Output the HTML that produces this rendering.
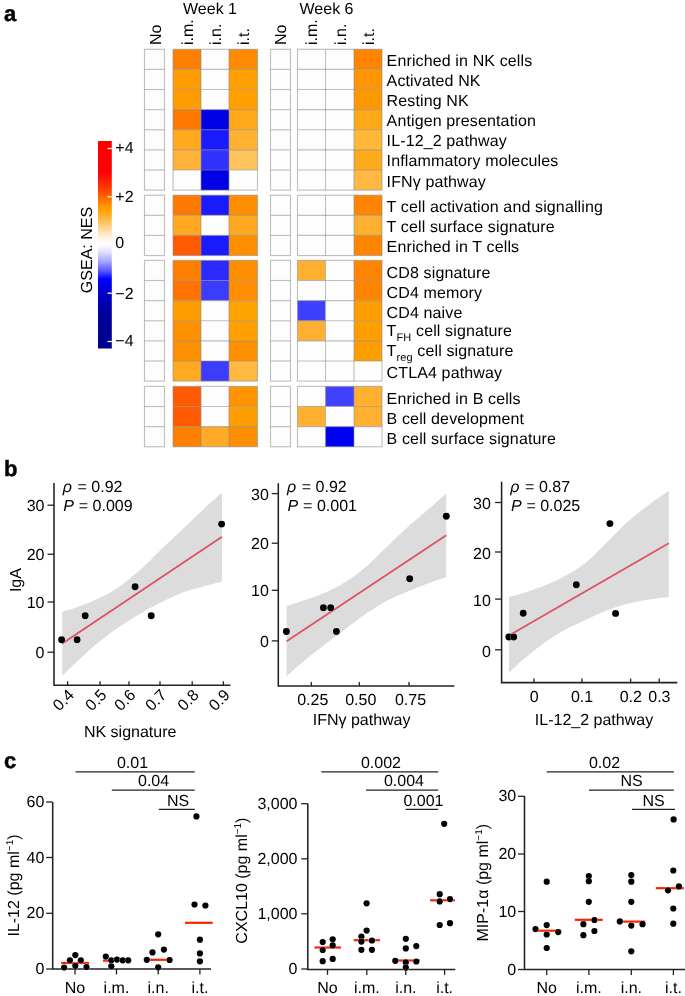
<!DOCTYPE html><html><head><meta charset="utf-8"><style>html,body{margin:0;padding:0;background:#fff;}svg{display:block;will-change:transform;}text{font-family:"Liberation Sans",sans-serif;text-rendering:geometricPrecision;}</style></head><body>
<svg width="685" height="996" viewBox="0 0 685 996">
<text x="4" y="20.5" font-size="22" font-weight="bold" stroke="#000" stroke-width="0.45">a</text>
<text x="4" y="476" font-size="22" font-weight="bold" stroke="#000" stroke-width="0.45">b</text>
<text x="4" y="768" font-size="22" font-weight="bold" stroke="#000" stroke-width="0.45">c</text>
<text x="210" y="13.6" font-size="16" text-anchor="middle">Week 1</text>
<text x="326.5" y="13.6" font-size="16" text-anchor="middle">Week 6</text>
<text transform="translate(161.2,45) rotate(-90)" font-size="16">No</text>
<text transform="translate(192.8,45) rotate(-90)" font-size="16">i.m.</text>
<text transform="translate(220.8,45) rotate(-90)" font-size="16">i.n.</text>
<text transform="translate(249.1,45) rotate(-90)" font-size="16">i.t.</text>
<text transform="translate(286.3,45) rotate(-90)" font-size="16">No</text>
<text transform="translate(317.3,45) rotate(-90)" font-size="16">i.m.</text>
<text transform="translate(345.6,45) rotate(-90)" font-size="16">i.n.</text>
<text transform="translate(373.8,45) rotate(-90)" font-size="16">i.t.</text>
<rect x="144.5" y="49.30" width="20.0" height="20.12" fill="#FDFDFD"/>
<rect x="173" y="49.30" width="28" height="20.12" fill="#FF7F00"/>
<rect x="201" y="49.30" width="28" height="20.12" fill="#FDFDFD"/>
<rect x="229" y="49.30" width="28.5" height="20.12" fill="#FF8A00"/>
<rect x="270.5" y="49.30" width="20.0" height="20.12" fill="#FDFDFD"/>
<rect x="297.5" y="49.30" width="28.0" height="20.12" fill="#FDFDFD"/>
<rect x="325.5" y="49.30" width="28.5" height="20.12" fill="#FDFDFD"/>
<rect x="354" y="49.30" width="28" height="20.12" fill="#FF8400"/>
<rect x="144.5" y="69.42" width="20.0" height="20.12" fill="#FDFDFD"/>
<rect x="173" y="69.42" width="28" height="20.12" fill="#FF9C00"/>
<rect x="201" y="69.42" width="28" height="20.12" fill="#FDFDFD"/>
<rect x="229" y="69.42" width="28.5" height="20.12" fill="#FFA000"/>
<rect x="270.5" y="69.42" width="20.0" height="20.12" fill="#FDFDFD"/>
<rect x="297.5" y="69.42" width="28.0" height="20.12" fill="#FDFDFD"/>
<rect x="325.5" y="69.42" width="28.5" height="20.12" fill="#FDFDFD"/>
<rect x="354" y="69.42" width="28" height="20.12" fill="#FF9500"/>
<rect x="144.5" y="89.54" width="20.0" height="20.12" fill="#FDFDFD"/>
<rect x="173" y="89.54" width="28" height="20.12" fill="#FF9C00"/>
<rect x="201" y="89.54" width="28" height="20.12" fill="#FDFDFD"/>
<rect x="229" y="89.54" width="28.5" height="20.12" fill="#FFA000"/>
<rect x="270.5" y="89.54" width="20.0" height="20.12" fill="#FDFDFD"/>
<rect x="297.5" y="89.54" width="28.0" height="20.12" fill="#FDFDFD"/>
<rect x="325.5" y="89.54" width="28.5" height="20.12" fill="#FDFDFD"/>
<rect x="354" y="89.54" width="28" height="20.12" fill="#FF9800"/>
<rect x="144.5" y="109.66" width="20.0" height="20.12" fill="#FDFDFD"/>
<rect x="173" y="109.66" width="28" height="20.12" fill="#FF7800"/>
<rect x="201" y="109.66" width="28" height="20.12" fill="#0000E6"/>
<rect x="229" y="109.66" width="28.5" height="20.12" fill="#FFA91A"/>
<rect x="270.5" y="109.66" width="20.0" height="20.12" fill="#FDFDFD"/>
<rect x="297.5" y="109.66" width="28.0" height="20.12" fill="#FDFDFD"/>
<rect x="325.5" y="109.66" width="28.5" height="20.12" fill="#FDFDFD"/>
<rect x="354" y="109.66" width="28" height="20.12" fill="#FFA818"/>
<rect x="144.5" y="129.78" width="20.0" height="20.12" fill="#FDFDFD"/>
<rect x="173" y="129.78" width="28" height="20.12" fill="#FFAA1C"/>
<rect x="201" y="129.78" width="28" height="20.12" fill="#1A1AFF"/>
<rect x="229" y="129.78" width="28.5" height="20.12" fill="#FFB232"/>
<rect x="270.5" y="129.78" width="20.0" height="20.12" fill="#FDFDFD"/>
<rect x="297.5" y="129.78" width="28.0" height="20.12" fill="#FDFDFD"/>
<rect x="325.5" y="129.78" width="28.5" height="20.12" fill="#FDFDFD"/>
<rect x="354" y="129.78" width="28" height="20.12" fill="#FFB838"/>
<rect x="144.5" y="149.90" width="20.0" height="20.12" fill="#FDFDFD"/>
<rect x="173" y="149.90" width="28" height="20.12" fill="#FFB23A"/>
<rect x="201" y="149.90" width="28" height="20.12" fill="#3030FF"/>
<rect x="229" y="149.90" width="28.5" height="20.12" fill="#FFC45C"/>
<rect x="270.5" y="149.90" width="20.0" height="20.12" fill="#FDFDFD"/>
<rect x="297.5" y="149.90" width="28.0" height="20.12" fill="#FDFDFD"/>
<rect x="325.5" y="149.90" width="28.5" height="20.12" fill="#FDFDFD"/>
<rect x="354" y="149.90" width="28" height="20.12" fill="#FFAA1C"/>
<rect x="144.5" y="170.02" width="20.0" height="20.12" fill="#FDFDFD"/>
<rect x="173" y="170.02" width="28" height="20.12" fill="#FDFDFD"/>
<rect x="201" y="170.02" width="28" height="20.12" fill="#0000E6"/>
<rect x="229" y="170.02" width="28.5" height="20.12" fill="#FDFDFD"/>
<rect x="270.5" y="170.02" width="20.0" height="20.12" fill="#FDFDFD"/>
<rect x="297.5" y="170.02" width="28.0" height="20.12" fill="#FDFDFD"/>
<rect x="325.5" y="170.02" width="28.5" height="20.12" fill="#FDFDFD"/>
<rect x="354" y="170.02" width="28" height="20.12" fill="#FFB840"/>
<rect x="144.5" y="195.20" width="20.0" height="20.12" fill="#FDFDFD"/>
<rect x="173" y="195.20" width="28" height="20.12" fill="#FF7A00"/>
<rect x="201" y="195.20" width="28" height="20.12" fill="#1A1AFF"/>
<rect x="229" y="195.20" width="28.5" height="20.12" fill="#FF8E00"/>
<rect x="270.5" y="195.20" width="20.0" height="20.12" fill="#FDFDFD"/>
<rect x="297.5" y="195.20" width="28.0" height="20.12" fill="#FDFDFD"/>
<rect x="325.5" y="195.20" width="28.5" height="20.12" fill="#FDFDFD"/>
<rect x="354" y="195.20" width="28" height="20.12" fill="#FF8500"/>
<rect x="144.5" y="215.32" width="20.0" height="20.12" fill="#FDFDFD"/>
<rect x="173" y="215.32" width="28" height="20.12" fill="#FFA820"/>
<rect x="201" y="215.32" width="28" height="20.12" fill="#FDFDFD"/>
<rect x="229" y="215.32" width="28.5" height="20.12" fill="#FFA820"/>
<rect x="270.5" y="215.32" width="20.0" height="20.12" fill="#FDFDFD"/>
<rect x="297.5" y="215.32" width="28.0" height="20.12" fill="#FDFDFD"/>
<rect x="325.5" y="215.32" width="28.5" height="20.12" fill="#FDFDFD"/>
<rect x="354" y="215.32" width="28" height="20.12" fill="#FFB030"/>
<rect x="144.5" y="235.44" width="20.0" height="20.12" fill="#FDFDFD"/>
<rect x="173" y="235.44" width="28" height="20.12" fill="#FF5A00"/>
<rect x="201" y="235.44" width="28" height="20.12" fill="#1A1AFF"/>
<rect x="229" y="235.44" width="28.5" height="20.12" fill="#FF8E00"/>
<rect x="270.5" y="235.44" width="20.0" height="20.12" fill="#FDFDFD"/>
<rect x="297.5" y="235.44" width="28.0" height="20.12" fill="#FDFDFD"/>
<rect x="325.5" y="235.44" width="28.5" height="20.12" fill="#FDFDFD"/>
<rect x="354" y="235.44" width="28" height="20.12" fill="#FF8500"/>
<rect x="144.5" y="260.40" width="20.0" height="20.12" fill="#FDFDFD"/>
<rect x="173" y="260.40" width="28" height="20.12" fill="#FF8000"/>
<rect x="201" y="260.40" width="28" height="20.12" fill="#2A2AFF"/>
<rect x="229" y="260.40" width="28.5" height="20.12" fill="#FF8E00"/>
<rect x="270.5" y="260.40" width="20.0" height="20.12" fill="#FDFDFD"/>
<rect x="297.5" y="260.40" width="28.0" height="20.12" fill="#FFB030"/>
<rect x="325.5" y="260.40" width="28.5" height="20.12" fill="#FDFDFD"/>
<rect x="354" y="260.40" width="28" height="20.12" fill="#FF8500"/>
<rect x="144.5" y="280.52" width="20.0" height="20.12" fill="#FDFDFD"/>
<rect x="173" y="280.52" width="28" height="20.12" fill="#FF7400"/>
<rect x="201" y="280.52" width="28" height="20.12" fill="#3C3CFF"/>
<rect x="229" y="280.52" width="28.5" height="20.12" fill="#FF8E00"/>
<rect x="270.5" y="280.52" width="20.0" height="20.12" fill="#FDFDFD"/>
<rect x="297.5" y="280.52" width="28.0" height="20.12" fill="#FDFDFD"/>
<rect x="325.5" y="280.52" width="28.5" height="20.12" fill="#FDFDFD"/>
<rect x="354" y="280.52" width="28" height="20.12" fill="#FF8500"/>
<rect x="144.5" y="300.64" width="20.0" height="20.12" fill="#FDFDFD"/>
<rect x="173" y="300.64" width="28" height="20.12" fill="#FF9C00"/>
<rect x="201" y="300.64" width="28" height="20.12" fill="#FDFDFD"/>
<rect x="229" y="300.64" width="28.5" height="20.12" fill="#FFA300"/>
<rect x="270.5" y="300.64" width="20.0" height="20.12" fill="#FDFDFD"/>
<rect x="297.5" y="300.64" width="28.0" height="20.12" fill="#3F3FFF"/>
<rect x="325.5" y="300.64" width="28.5" height="20.12" fill="#FDFDFD"/>
<rect x="354" y="300.64" width="28" height="20.12" fill="#FF9E00"/>
<rect x="144.5" y="320.76" width="20.0" height="20.12" fill="#FDFDFD"/>
<rect x="173" y="320.76" width="28" height="20.12" fill="#FF9000"/>
<rect x="201" y="320.76" width="28" height="20.12" fill="#FDFDFD"/>
<rect x="229" y="320.76" width="28.5" height="20.12" fill="#FFA000"/>
<rect x="270.5" y="320.76" width="20.0" height="20.12" fill="#FDFDFD"/>
<rect x="297.5" y="320.76" width="28.0" height="20.12" fill="#FFB030"/>
<rect x="325.5" y="320.76" width="28.5" height="20.12" fill="#FDFDFD"/>
<rect x="354" y="320.76" width="28" height="20.12" fill="#FF9E00"/>
<rect x="144.5" y="340.88" width="20.0" height="20.12" fill="#FDFDFD"/>
<rect x="173" y="340.88" width="28" height="20.12" fill="#FF9000"/>
<rect x="201" y="340.88" width="28" height="20.12" fill="#FDFDFD"/>
<rect x="229" y="340.88" width="28.5" height="20.12" fill="#FF9000"/>
<rect x="270.5" y="340.88" width="20.0" height="20.12" fill="#FDFDFD"/>
<rect x="297.5" y="340.88" width="28.0" height="20.12" fill="#FDFDFD"/>
<rect x="325.5" y="340.88" width="28.5" height="20.12" fill="#FDFDFD"/>
<rect x="354" y="340.88" width="28" height="20.12" fill="#FF9E00"/>
<rect x="144.5" y="361.00" width="20.0" height="20.12" fill="#FDFDFD"/>
<rect x="173" y="361.00" width="28" height="20.12" fill="#FFAA20"/>
<rect x="201" y="361.00" width="28" height="20.12" fill="#3C3CFF"/>
<rect x="229" y="361.00" width="28.5" height="20.12" fill="#FFB840"/>
<rect x="270.5" y="361.00" width="20.0" height="20.12" fill="#FDFDFD"/>
<rect x="297.5" y="361.00" width="28.0" height="20.12" fill="#FDFDFD"/>
<rect x="325.5" y="361.00" width="28.5" height="20.12" fill="#FDFDFD"/>
<rect x="354" y="361.00" width="28" height="20.12" fill="#FDFDFD"/>
<rect x="144.5" y="386.40" width="20.0" height="20.12" fill="#FDFDFD"/>
<rect x="173" y="386.40" width="28" height="20.12" fill="#FF5A00"/>
<rect x="201" y="386.40" width="28" height="20.12" fill="#FDFDFD"/>
<rect x="229" y="386.40" width="28.5" height="20.12" fill="#FF9400"/>
<rect x="270.5" y="386.40" width="20.0" height="20.12" fill="#FDFDFD"/>
<rect x="297.5" y="386.40" width="28.0" height="20.12" fill="#FDFDFD"/>
<rect x="325.5" y="386.40" width="28.5" height="20.12" fill="#4040FF"/>
<rect x="354" y="386.40" width="28" height="20.12" fill="#FFB030"/>
<rect x="144.5" y="406.52" width="20.0" height="20.12" fill="#FDFDFD"/>
<rect x="173" y="406.52" width="28" height="20.12" fill="#FF5A00"/>
<rect x="201" y="406.52" width="28" height="20.12" fill="#FDFDFD"/>
<rect x="229" y="406.52" width="28.5" height="20.12" fill="#FF9E00"/>
<rect x="270.5" y="406.52" width="20.0" height="20.12" fill="#FDFDFD"/>
<rect x="297.5" y="406.52" width="28.0" height="20.12" fill="#FFB030"/>
<rect x="325.5" y="406.52" width="28.5" height="20.12" fill="#FDFDFD"/>
<rect x="354" y="406.52" width="28" height="20.12" fill="#FFB030"/>
<rect x="144.5" y="426.64" width="20.0" height="20.12" fill="#FDFDFD"/>
<rect x="173" y="426.64" width="28" height="20.12" fill="#FF8000"/>
<rect x="201" y="426.64" width="28" height="20.12" fill="#FFAA28"/>
<rect x="229" y="426.64" width="28.5" height="20.12" fill="#FF8E00"/>
<rect x="270.5" y="426.64" width="20.0" height="20.12" fill="#FDFDFD"/>
<rect x="297.5" y="426.64" width="28.0" height="20.12" fill="#FDFDFD"/>
<rect x="325.5" y="426.64" width="28.5" height="20.12" fill="#0000F0"/>
<rect x="354" y="426.64" width="28" height="20.12" fill="#FDFDFD"/>
<rect x="144.5" y="49.30" width="20.0" height="140.84" fill="none" stroke="#8C8C8C" stroke-opacity="0.55" stroke-width="1.15"/>
<line x1="144.5" y1="69.42" x2="164.5" y2="69.42" stroke="#8C8C8C" stroke-opacity="0.55" stroke-width="1.15"/>
<line x1="144.5" y1="89.54" x2="164.5" y2="89.54" stroke="#8C8C8C" stroke-opacity="0.55" stroke-width="1.15"/>
<line x1="144.5" y1="109.66" x2="164.5" y2="109.66" stroke="#8C8C8C" stroke-opacity="0.55" stroke-width="1.15"/>
<line x1="144.5" y1="129.78" x2="164.5" y2="129.78" stroke="#8C8C8C" stroke-opacity="0.55" stroke-width="1.15"/>
<line x1="144.5" y1="149.90" x2="164.5" y2="149.90" stroke="#8C8C8C" stroke-opacity="0.55" stroke-width="1.15"/>
<line x1="144.5" y1="170.02" x2="164.5" y2="170.02" stroke="#8C8C8C" stroke-opacity="0.55" stroke-width="1.15"/>
<rect x="173" y="49.30" width="84.5" height="140.84" fill="none" stroke="#8C8C8C" stroke-opacity="0.55" stroke-width="1.15"/>
<line x1="201" y1="49.30" x2="201" y2="190.14" stroke="#8C8C8C" stroke-opacity="0.55" stroke-width="1.15"/>
<line x1="229" y1="49.30" x2="229" y2="190.14" stroke="#8C8C8C" stroke-opacity="0.55" stroke-width="1.15"/>
<line x1="173" y1="69.42" x2="257.5" y2="69.42" stroke="#8C8C8C" stroke-opacity="0.55" stroke-width="1.15"/>
<line x1="173" y1="89.54" x2="257.5" y2="89.54" stroke="#8C8C8C" stroke-opacity="0.55" stroke-width="1.15"/>
<line x1="173" y1="109.66" x2="257.5" y2="109.66" stroke="#8C8C8C" stroke-opacity="0.55" stroke-width="1.15"/>
<line x1="173" y1="129.78" x2="257.5" y2="129.78" stroke="#8C8C8C" stroke-opacity="0.55" stroke-width="1.15"/>
<line x1="173" y1="149.90" x2="257.5" y2="149.90" stroke="#8C8C8C" stroke-opacity="0.55" stroke-width="1.15"/>
<line x1="173" y1="170.02" x2="257.5" y2="170.02" stroke="#8C8C8C" stroke-opacity="0.55" stroke-width="1.15"/>
<rect x="270.5" y="49.30" width="20.0" height="140.84" fill="none" stroke="#8C8C8C" stroke-opacity="0.55" stroke-width="1.15"/>
<line x1="270.5" y1="69.42" x2="290.5" y2="69.42" stroke="#8C8C8C" stroke-opacity="0.55" stroke-width="1.15"/>
<line x1="270.5" y1="89.54" x2="290.5" y2="89.54" stroke="#8C8C8C" stroke-opacity="0.55" stroke-width="1.15"/>
<line x1="270.5" y1="109.66" x2="290.5" y2="109.66" stroke="#8C8C8C" stroke-opacity="0.55" stroke-width="1.15"/>
<line x1="270.5" y1="129.78" x2="290.5" y2="129.78" stroke="#8C8C8C" stroke-opacity="0.55" stroke-width="1.15"/>
<line x1="270.5" y1="149.90" x2="290.5" y2="149.90" stroke="#8C8C8C" stroke-opacity="0.55" stroke-width="1.15"/>
<line x1="270.5" y1="170.02" x2="290.5" y2="170.02" stroke="#8C8C8C" stroke-opacity="0.55" stroke-width="1.15"/>
<rect x="297.5" y="49.30" width="84.5" height="140.84" fill="none" stroke="#8C8C8C" stroke-opacity="0.55" stroke-width="1.15"/>
<line x1="325.5" y1="49.30" x2="325.5" y2="190.14" stroke="#8C8C8C" stroke-opacity="0.55" stroke-width="1.15"/>
<line x1="354" y1="49.30" x2="354" y2="190.14" stroke="#8C8C8C" stroke-opacity="0.55" stroke-width="1.15"/>
<line x1="297.5" y1="69.42" x2="382" y2="69.42" stroke="#8C8C8C" stroke-opacity="0.55" stroke-width="1.15"/>
<line x1="297.5" y1="89.54" x2="382" y2="89.54" stroke="#8C8C8C" stroke-opacity="0.55" stroke-width="1.15"/>
<line x1="297.5" y1="109.66" x2="382" y2="109.66" stroke="#8C8C8C" stroke-opacity="0.55" stroke-width="1.15"/>
<line x1="297.5" y1="129.78" x2="382" y2="129.78" stroke="#8C8C8C" stroke-opacity="0.55" stroke-width="1.15"/>
<line x1="297.5" y1="149.90" x2="382" y2="149.90" stroke="#8C8C8C" stroke-opacity="0.55" stroke-width="1.15"/>
<line x1="297.5" y1="170.02" x2="382" y2="170.02" stroke="#8C8C8C" stroke-opacity="0.55" stroke-width="1.15"/>
<rect x="144.5" y="195.20" width="20.0" height="60.36" fill="none" stroke="#8C8C8C" stroke-opacity="0.55" stroke-width="1.15"/>
<line x1="144.5" y1="215.32" x2="164.5" y2="215.32" stroke="#8C8C8C" stroke-opacity="0.55" stroke-width="1.15"/>
<line x1="144.5" y1="235.44" x2="164.5" y2="235.44" stroke="#8C8C8C" stroke-opacity="0.55" stroke-width="1.15"/>
<rect x="173" y="195.20" width="84.5" height="60.36" fill="none" stroke="#8C8C8C" stroke-opacity="0.55" stroke-width="1.15"/>
<line x1="201" y1="195.20" x2="201" y2="255.56" stroke="#8C8C8C" stroke-opacity="0.55" stroke-width="1.15"/>
<line x1="229" y1="195.20" x2="229" y2="255.56" stroke="#8C8C8C" stroke-opacity="0.55" stroke-width="1.15"/>
<line x1="173" y1="215.32" x2="257.5" y2="215.32" stroke="#8C8C8C" stroke-opacity="0.55" stroke-width="1.15"/>
<line x1="173" y1="235.44" x2="257.5" y2="235.44" stroke="#8C8C8C" stroke-opacity="0.55" stroke-width="1.15"/>
<rect x="270.5" y="195.20" width="20.0" height="60.36" fill="none" stroke="#8C8C8C" stroke-opacity="0.55" stroke-width="1.15"/>
<line x1="270.5" y1="215.32" x2="290.5" y2="215.32" stroke="#8C8C8C" stroke-opacity="0.55" stroke-width="1.15"/>
<line x1="270.5" y1="235.44" x2="290.5" y2="235.44" stroke="#8C8C8C" stroke-opacity="0.55" stroke-width="1.15"/>
<rect x="297.5" y="195.20" width="84.5" height="60.36" fill="none" stroke="#8C8C8C" stroke-opacity="0.55" stroke-width="1.15"/>
<line x1="325.5" y1="195.20" x2="325.5" y2="255.56" stroke="#8C8C8C" stroke-opacity="0.55" stroke-width="1.15"/>
<line x1="354" y1="195.20" x2="354" y2="255.56" stroke="#8C8C8C" stroke-opacity="0.55" stroke-width="1.15"/>
<line x1="297.5" y1="215.32" x2="382" y2="215.32" stroke="#8C8C8C" stroke-opacity="0.55" stroke-width="1.15"/>
<line x1="297.5" y1="235.44" x2="382" y2="235.44" stroke="#8C8C8C" stroke-opacity="0.55" stroke-width="1.15"/>
<rect x="144.5" y="260.40" width="20.0" height="120.72" fill="none" stroke="#8C8C8C" stroke-opacity="0.55" stroke-width="1.15"/>
<line x1="144.5" y1="280.52" x2="164.5" y2="280.52" stroke="#8C8C8C" stroke-opacity="0.55" stroke-width="1.15"/>
<line x1="144.5" y1="300.64" x2="164.5" y2="300.64" stroke="#8C8C8C" stroke-opacity="0.55" stroke-width="1.15"/>
<line x1="144.5" y1="320.76" x2="164.5" y2="320.76" stroke="#8C8C8C" stroke-opacity="0.55" stroke-width="1.15"/>
<line x1="144.5" y1="340.88" x2="164.5" y2="340.88" stroke="#8C8C8C" stroke-opacity="0.55" stroke-width="1.15"/>
<line x1="144.5" y1="361.00" x2="164.5" y2="361.00" stroke="#8C8C8C" stroke-opacity="0.55" stroke-width="1.15"/>
<rect x="173" y="260.40" width="84.5" height="120.72" fill="none" stroke="#8C8C8C" stroke-opacity="0.55" stroke-width="1.15"/>
<line x1="201" y1="260.40" x2="201" y2="381.12" stroke="#8C8C8C" stroke-opacity="0.55" stroke-width="1.15"/>
<line x1="229" y1="260.40" x2="229" y2="381.12" stroke="#8C8C8C" stroke-opacity="0.55" stroke-width="1.15"/>
<line x1="173" y1="280.52" x2="257.5" y2="280.52" stroke="#8C8C8C" stroke-opacity="0.55" stroke-width="1.15"/>
<line x1="173" y1="300.64" x2="257.5" y2="300.64" stroke="#8C8C8C" stroke-opacity="0.55" stroke-width="1.15"/>
<line x1="173" y1="320.76" x2="257.5" y2="320.76" stroke="#8C8C8C" stroke-opacity="0.55" stroke-width="1.15"/>
<line x1="173" y1="340.88" x2="257.5" y2="340.88" stroke="#8C8C8C" stroke-opacity="0.55" stroke-width="1.15"/>
<line x1="173" y1="361.00" x2="257.5" y2="361.00" stroke="#8C8C8C" stroke-opacity="0.55" stroke-width="1.15"/>
<rect x="270.5" y="260.40" width="20.0" height="120.72" fill="none" stroke="#8C8C8C" stroke-opacity="0.55" stroke-width="1.15"/>
<line x1="270.5" y1="280.52" x2="290.5" y2="280.52" stroke="#8C8C8C" stroke-opacity="0.55" stroke-width="1.15"/>
<line x1="270.5" y1="300.64" x2="290.5" y2="300.64" stroke="#8C8C8C" stroke-opacity="0.55" stroke-width="1.15"/>
<line x1="270.5" y1="320.76" x2="290.5" y2="320.76" stroke="#8C8C8C" stroke-opacity="0.55" stroke-width="1.15"/>
<line x1="270.5" y1="340.88" x2="290.5" y2="340.88" stroke="#8C8C8C" stroke-opacity="0.55" stroke-width="1.15"/>
<line x1="270.5" y1="361.00" x2="290.5" y2="361.00" stroke="#8C8C8C" stroke-opacity="0.55" stroke-width="1.15"/>
<rect x="297.5" y="260.40" width="84.5" height="120.72" fill="none" stroke="#8C8C8C" stroke-opacity="0.55" stroke-width="1.15"/>
<line x1="325.5" y1="260.40" x2="325.5" y2="381.12" stroke="#8C8C8C" stroke-opacity="0.55" stroke-width="1.15"/>
<line x1="354" y1="260.40" x2="354" y2="381.12" stroke="#8C8C8C" stroke-opacity="0.55" stroke-width="1.15"/>
<line x1="297.5" y1="280.52" x2="382" y2="280.52" stroke="#8C8C8C" stroke-opacity="0.55" stroke-width="1.15"/>
<line x1="297.5" y1="300.64" x2="382" y2="300.64" stroke="#8C8C8C" stroke-opacity="0.55" stroke-width="1.15"/>
<line x1="297.5" y1="320.76" x2="382" y2="320.76" stroke="#8C8C8C" stroke-opacity="0.55" stroke-width="1.15"/>
<line x1="297.5" y1="340.88" x2="382" y2="340.88" stroke="#8C8C8C" stroke-opacity="0.55" stroke-width="1.15"/>
<line x1="297.5" y1="361.00" x2="382" y2="361.00" stroke="#8C8C8C" stroke-opacity="0.55" stroke-width="1.15"/>
<rect x="144.5" y="386.40" width="20.0" height="60.36" fill="none" stroke="#8C8C8C" stroke-opacity="0.55" stroke-width="1.15"/>
<line x1="144.5" y1="406.52" x2="164.5" y2="406.52" stroke="#8C8C8C" stroke-opacity="0.55" stroke-width="1.15"/>
<line x1="144.5" y1="426.64" x2="164.5" y2="426.64" stroke="#8C8C8C" stroke-opacity="0.55" stroke-width="1.15"/>
<rect x="173" y="386.40" width="84.5" height="60.36" fill="none" stroke="#8C8C8C" stroke-opacity="0.55" stroke-width="1.15"/>
<line x1="201" y1="386.40" x2="201" y2="446.76" stroke="#8C8C8C" stroke-opacity="0.55" stroke-width="1.15"/>
<line x1="229" y1="386.40" x2="229" y2="446.76" stroke="#8C8C8C" stroke-opacity="0.55" stroke-width="1.15"/>
<line x1="173" y1="406.52" x2="257.5" y2="406.52" stroke="#8C8C8C" stroke-opacity="0.55" stroke-width="1.15"/>
<line x1="173" y1="426.64" x2="257.5" y2="426.64" stroke="#8C8C8C" stroke-opacity="0.55" stroke-width="1.15"/>
<rect x="270.5" y="386.40" width="20.0" height="60.36" fill="none" stroke="#8C8C8C" stroke-opacity="0.55" stroke-width="1.15"/>
<line x1="270.5" y1="406.52" x2="290.5" y2="406.52" stroke="#8C8C8C" stroke-opacity="0.55" stroke-width="1.15"/>
<line x1="270.5" y1="426.64" x2="290.5" y2="426.64" stroke="#8C8C8C" stroke-opacity="0.55" stroke-width="1.15"/>
<rect x="297.5" y="386.40" width="84.5" height="60.36" fill="none" stroke="#8C8C8C" stroke-opacity="0.55" stroke-width="1.15"/>
<line x1="325.5" y1="386.40" x2="325.5" y2="446.76" stroke="#8C8C8C" stroke-opacity="0.55" stroke-width="1.15"/>
<line x1="354" y1="386.40" x2="354" y2="446.76" stroke="#8C8C8C" stroke-opacity="0.55" stroke-width="1.15"/>
<line x1="297.5" y1="406.52" x2="382" y2="406.52" stroke="#8C8C8C" stroke-opacity="0.55" stroke-width="1.15"/>
<line x1="297.5" y1="426.64" x2="382" y2="426.64" stroke="#8C8C8C" stroke-opacity="0.55" stroke-width="1.15"/>
<g font-size="16" letter-spacing="0.13"><text x="386.6" y="65.8">Enriched in NK cells</text>
<text x="386.6" y="85.9">Activated NK</text>
<text x="386.6" y="106.0">Resting NK</text>
<text x="386.6" y="126.2">Antigen presentation</text>
<text x="386.6" y="146.3">IL-12_2 pathway</text>
<text x="386.6" y="166.4">Inflammatory molecules</text>
<text x="386.6" y="186.5">IFN&#947; pathway</text>
<text x="386.6" y="212.1">T cell activation and signalling</text>
<text x="386.6" y="232.2">T cell surface signature</text>
<text x="386.6" y="252.3">Enriched in T cells</text>
<text x="386.6" y="277.6">CD8 signature</text>
<text x="386.6" y="297.7">CD4 memory</text>
<text x="386.6" y="317.8">CD4 naive</text>
<text x="386.6" y="335.9">T<tspan font-size="11" dy="5.3">FH</tspan><tspan dy="-5.3"> cell signature</tspan></text>
<text x="386.6" y="356.0">T<tspan font-size="11" dy="5.3">reg</tspan><tspan dy="-5.3"> cell signature</tspan></text>
<text x="386.6" y="378.2">CTLA4 pathway</text>
<text x="386.6" y="403.7">Enriched in B cells</text>
<text x="386.6" y="423.8">B cell development</text>
<text x="386.6" y="443.9">B cell surface signature</text></g>
<defs><linearGradient id="cb" x1="0" y1="0" x2="0" y2="1">
<stop offset="0" stop-color="#FF0000"/>
<stop offset="0.15" stop-color="#FF0000"/>
<stop offset="0.22" stop-color="#FF3400"/>
<stop offset="0.27" stop-color="#FF6400"/>
<stop offset="0.31" stop-color="#FF9200"/>
<stop offset="0.335" stop-color="#FFA400"/>
<stop offset="0.40" stop-color="#FFC870"/>
<stop offset="0.46" stop-color="#FFF0DC"/>
<stop offset="0.497" stop-color="#FFFFFF"/>
<stop offset="0.53" stop-color="#E6E6FF"/>
<stop offset="0.58" stop-color="#A8A8FF"/>
<stop offset="0.63" stop-color="#5050FF"/>
<stop offset="0.665" stop-color="#0000FF"/>
<stop offset="0.74" stop-color="#0000C8"/>
<stop offset="0.83" stop-color="#00009C"/>
<stop offset="1" stop-color="#00008A"/>
</linearGradient></defs>
<rect x="98" y="141" width="13.8" height="207.5" fill="url(#cb)"/>
<line x1="107.5" y1="148.5" x2="111.8" y2="148.5" stroke="#fff" stroke-width="1.3"/>
<text x="115.3" y="152.7" font-size="16">+4</text>
<line x1="107.5" y1="196.8" x2="111.8" y2="196.8" stroke="#fff" stroke-width="1.3"/>
<text x="115.3" y="202.0" font-size="16">+2</text>
<text x="115.3" y="248.1" font-size="16">0</text>
<line x1="107.5" y1="293.2" x2="111.8" y2="293.2" stroke="#fff" stroke-width="1.3"/>
<text x="115.3" y="299" font-size="16">&#8722;2</text>
<line x1="107.5" y1="341.5" x2="111.8" y2="341.5" stroke="#fff" stroke-width="1.3"/>
<text x="115.3" y="345.8" font-size="16">&#8722;4</text>
<text transform="translate(92,250) rotate(-90)" font-size="16" text-anchor="middle">GSEA: NES</text>
<polygon points="62.2,611.7 63.2,611.4 64.5,611.0 66.1,610.6 67.8,610.1 69.7,609.6 71.8,608.9 73.9,608.3 76.1,607.5 78.4,606.7 80.9,605.8 83.5,604.8 86.2,603.8 89.0,602.7 91.8,601.5 94.5,600.3 97.2,599.1 99.8,597.8 102.4,596.6 105.0,595.2 107.7,593.9 110.3,592.4 112.9,590.9 115.5,589.3 118.2,587.5 120.9,585.6 123.6,583.6 126.3,581.5 129.1,579.2 131.8,577.0 134.6,574.6 137.3,572.3 140.0,569.9 142.7,567.5 145.3,565.0 148.0,562.5 150.6,559.9 153.2,557.3 155.8,554.7 158.5,552.1 161.1,549.6 163.7,547.1 166.4,544.6 169.0,542.0 171.7,539.5 174.3,537.0 176.9,534.5 179.6,532.0 182.2,529.5 184.8,527.0 187.5,524.4 190.2,521.9 192.8,519.3 195.5,516.8 198.1,514.3 200.7,511.9 203.2,509.5 205.8,507.1 208.5,504.6 211.2,502.1 213.9,499.7 216.4,497.4 218.6,495.4 220.5,493.7 221.9,492.4 221.9,581.8 220.5,582.2 218.6,582.6 216.4,583.1 213.9,583.8 211.2,584.4 208.5,585.1 205.8,585.8 203.2,586.5 200.7,587.2 198.1,587.9 195.5,588.6 192.8,589.3 190.2,590.1 187.5,591.0 184.8,591.8 182.2,592.8 179.6,593.8 176.9,594.9 174.3,596.0 171.7,597.2 169.0,598.4 166.4,599.7 163.7,601.0 161.1,602.3 158.5,603.6 155.8,605.0 153.2,606.4 150.6,607.8 148.0,609.3 145.3,610.8 142.7,612.3 140.0,613.9 137.3,615.5 134.6,617.1 131.8,618.8 129.1,620.5 126.3,622.2 123.6,624.0 120.9,625.8 118.2,627.6 115.5,629.5 112.9,631.3 110.3,633.2 107.7,635.2 105.0,637.2 102.4,639.2 99.8,641.3 97.2,643.4 94.5,645.6 91.8,648.0 89.0,650.5 86.2,653.0 83.5,655.5 80.9,657.9 78.4,660.2 76.1,662.3 73.9,664.4 71.8,666.4 69.7,668.4 67.8,670.3 66.1,672.1 64.5,673.7 63.2,675.0 62.2,676.0" fill="#DCDCDC"/>
<line x1="62" y1="643.7" x2="222" y2="536.7" stroke="#DE5065" stroke-width="1.75"/>
<circle cx="61.6" cy="639.7" r="3.45" fill="#000" stroke="#fff" stroke-width="0.8" paint-order="stroke"/>
<circle cx="77.1" cy="639.7" r="3.45" fill="#000" stroke="#fff" stroke-width="0.8" paint-order="stroke"/>
<circle cx="85.2" cy="615.8" r="3.45" fill="#000" stroke="#fff" stroke-width="0.8" paint-order="stroke"/>
<circle cx="135.1" cy="586.7" r="3.45" fill="#000" stroke="#fff" stroke-width="0.8" paint-order="stroke"/>
<circle cx="151.2" cy="615.8" r="3.45" fill="#000" stroke="#fff" stroke-width="0.8" paint-order="stroke"/>
<circle cx="221.6" cy="524.1" r="3.45" fill="#000" stroke="#fff" stroke-width="0.8" paint-order="stroke"/>
<path d="M54,483 V685.2 H230.5" fill="none" stroke="#222" stroke-width="1.55"/>
<line x1="47.5" y1="505.2" x2="54" y2="505.2" stroke="#222" stroke-width="1.3"/>
<text x="44.5" y="511.2" font-size="16" text-anchor="end">30</text>
<line x1="47.5" y1="554.2" x2="54" y2="554.2" stroke="#222" stroke-width="1.3"/>
<text x="44.5" y="560.2" font-size="16" text-anchor="end">20</text>
<line x1="47.5" y1="602" x2="54" y2="602" stroke="#222" stroke-width="1.3"/>
<text x="44.5" y="608.0" font-size="16" text-anchor="end">10</text>
<line x1="47.5" y1="652.2" x2="54" y2="652.2" stroke="#222" stroke-width="1.3"/>
<text x="44.5" y="658.2" font-size="16" text-anchor="end">0</text>
<line x1="67.6" y1="681.2" x2="67.6" y2="685.2" stroke="#222" stroke-width="1.3"/>
<text transform="translate(75.1,696.0) rotate(-45)" font-size="16" text-anchor="end">0.4</text>
<line x1="100.1" y1="681.2" x2="100.1" y2="685.2" stroke="#222" stroke-width="1.3"/>
<text transform="translate(107.6,696.0) rotate(-45)" font-size="16" text-anchor="end">0.5</text>
<line x1="129" y1="681.2" x2="129" y2="685.2" stroke="#222" stroke-width="1.3"/>
<text transform="translate(136.5,696.0) rotate(-45)" font-size="16" text-anchor="end">0.6</text>
<line x1="160" y1="681.2" x2="160" y2="685.2" stroke="#222" stroke-width="1.3"/>
<text transform="translate(167.5,696.0) rotate(-45)" font-size="16" text-anchor="end">0.7</text>
<line x1="192.2" y1="681.2" x2="192.2" y2="685.2" stroke="#222" stroke-width="1.3"/>
<text transform="translate(199.7,696.0) rotate(-45)" font-size="16" text-anchor="end">0.8</text>
<line x1="223.4" y1="681.2" x2="223.4" y2="685.2" stroke="#222" stroke-width="1.3"/>
<text transform="translate(230.9,696.0) rotate(-45)" font-size="16" text-anchor="end">0.9</text>
<text x="62.7" y="491.5" font-size="16"><tspan font-style="italic">&#961;</tspan><tspan dx="1.2"> = 0.92</tspan></text>
<text x="63.300000000000004" y="510.5" font-size="16"><tspan font-style="italic">P</tspan><tspan dx="0.4"> = 0.009</tspan></text>
<text x="130.2" y="737.4" font-size="16" text-anchor="middle">NK signature</text>
<text transform="translate(21,580.1) rotate(-90)" font-size="16" text-anchor="middle">IgA</text>
<polygon points="286.6,606.0 287.7,605.6 289.1,605.2 290.7,604.7 292.5,604.1 294.5,603.4 296.7,602.7 298.9,602.0 301.1,601.2 303.4,600.4 305.9,599.6 308.5,598.8 311.2,597.9 314.0,596.9 316.8,595.9 319.5,594.9 322.2,593.8 324.8,592.7 327.5,591.5 330.1,590.3 332.7,589.0 335.3,587.7 337.9,586.3 340.6,584.9 343.2,583.3 345.8,581.7 348.5,580.0 351.1,578.2 353.7,576.4 356.3,574.5 359.0,572.5 361.6,570.4 364.3,568.2 367.0,565.9 369.7,563.4 372.5,560.8 375.2,558.2 377.9,555.5 380.7,552.8 383.4,550.1 386.1,547.5 388.8,544.9 391.4,542.4 394.1,539.8 396.7,537.3 399.3,534.8 401.9,532.3 404.6,529.8 407.2,527.4 409.8,525.0 412.5,522.7 415.2,520.4 417.9,518.2 420.5,516.0 423.2,513.8 425.7,511.6 428.2,509.5 430.7,507.3 433.4,505.0 436.0,502.6 438.6,500.3 441.0,498.2 443.1,496.3 444.9,494.6 446.3,493.4 446.3,577.3 444.9,577.7 443.1,578.3 441.0,579.0 438.6,579.8 436.0,580.6 433.4,581.5 430.7,582.4 428.2,583.3 425.7,584.2 423.2,585.2 420.5,586.2 417.9,587.3 415.2,588.4 412.5,589.5 409.8,590.6 407.2,591.7 404.6,592.8 401.9,593.9 399.3,595.0 396.7,596.1 394.1,597.3 391.4,598.5 388.8,599.8 386.1,601.2 383.4,602.7 380.7,604.3 377.9,605.9 375.2,607.7 372.5,609.4 369.7,611.2 367.0,613.1 364.3,614.9 361.6,616.8 359.0,618.7 356.3,620.7 353.7,622.7 351.1,624.7 348.5,626.7 345.8,628.7 343.2,630.7 340.6,632.7 337.9,634.6 335.3,636.6 332.7,638.5 330.1,640.5 327.5,642.5 324.8,644.5 322.2,646.5 319.5,648.6 316.8,650.7 314.0,652.9 311.2,655.1 308.5,657.3 305.9,659.4 303.4,661.5 301.1,663.4 298.9,665.3 296.7,667.2 294.5,669.1 292.5,670.9 290.7,672.5 289.1,674.0 287.7,675.2 286.6,676.2" fill="#DCDCDC"/>
<line x1="286.6" y1="641.3" x2="446.3" y2="535.2" stroke="#DE5065" stroke-width="1.75"/>
<circle cx="286.4" cy="631.5" r="3.45" fill="#000" stroke="#fff" stroke-width="0.8" paint-order="stroke"/>
<circle cx="323.4" cy="607.7" r="3.45" fill="#000" stroke="#fff" stroke-width="0.8" paint-order="stroke"/>
<circle cx="330.7" cy="607.7" r="3.45" fill="#000" stroke="#fff" stroke-width="0.8" paint-order="stroke"/>
<circle cx="336.4" cy="631.5" r="3.45" fill="#000" stroke="#fff" stroke-width="0.8" paint-order="stroke"/>
<circle cx="409.7" cy="578.8" r="3.45" fill="#000" stroke="#fff" stroke-width="0.8" paint-order="stroke"/>
<circle cx="446.3" cy="516.3" r="3.45" fill="#000" stroke="#fff" stroke-width="0.8" paint-order="stroke"/>
<path d="M278.3,483.3 V685.9 H454.3" fill="none" stroke="#222" stroke-width="1.55"/>
<line x1="271.8" y1="493.6" x2="278.3" y2="493.6" stroke="#222" stroke-width="1.3"/>
<text x="268.8" y="499.70000000000005" font-size="16" text-anchor="end">30</text>
<line x1="271.8" y1="543.2" x2="278.3" y2="543.2" stroke="#222" stroke-width="1.3"/>
<text x="268.8" y="549.3000000000001" font-size="16" text-anchor="end">20</text>
<line x1="271.8" y1="590.3" x2="278.3" y2="590.3" stroke="#222" stroke-width="1.3"/>
<text x="268.8" y="596.4" font-size="16" text-anchor="end">10</text>
<line x1="271.8" y1="640.9" x2="278.3" y2="640.9" stroke="#222" stroke-width="1.3"/>
<text x="268.8" y="647.0" font-size="16" text-anchor="end">0</text>
<line x1="311.3" y1="681.9" x2="311.3" y2="685.9" stroke="#222" stroke-width="1.3"/>
<text x="312.8" y="705.3" font-size="16" text-anchor="middle">0.25</text>
<line x1="359.3" y1="681.9" x2="359.3" y2="685.9" stroke="#222" stroke-width="1.3"/>
<text x="360.8" y="705.3" font-size="16" text-anchor="middle">0.50</text>
<line x1="409" y1="681.9" x2="409" y2="685.9" stroke="#222" stroke-width="1.3"/>
<text x="410.5" y="705.3" font-size="16" text-anchor="middle">0.75</text>
<text x="287" y="491.5" font-size="16"><tspan font-style="italic">&#961;</tspan><tspan dx="1.2"> = 0.92</tspan></text>
<text x="287.6" y="510.5" font-size="16"><tspan font-style="italic">P</tspan><tspan dx="0.4"> = 0.001</tspan></text>
<text x="361.6" y="725.2" font-size="16" text-anchor="middle">IFN&#947; pathway</text>
<polygon points="509.0,596.8 509.9,596.6 511.0,596.4 512.3,596.1 513.7,595.8 515.4,595.4 517.2,594.9 519.1,594.4 521.1,593.8 523.3,593.1 525.7,592.3 528.4,591.5 531.1,590.6 533.9,589.6 536.7,588.6 539.5,587.5 542.2,586.5 544.8,585.4 547.4,584.4 550.0,583.3 552.7,582.1 555.3,581.0 557.9,579.7 560.5,578.4 563.2,577.0 565.9,575.5 568.6,574.0 571.3,572.5 574.1,570.8 576.8,569.1 579.6,567.3 582.3,565.3 585.0,563.3 587.7,561.1 590.3,558.7 593.0,556.3 595.6,553.7 598.2,551.1 600.8,548.4 603.5,545.8 606.1,543.2 608.7,540.6 611.4,537.9 614.0,535.2 616.7,532.5 619.3,529.8 621.9,527.2 624.6,524.6 627.2,522.2 629.8,519.9 632.5,517.6 635.1,515.5 637.7,513.4 640.4,511.3 643.0,509.3 645.6,507.3 648.2,505.3 650.9,503.3 653.9,501.1 656.9,499.0 659.8,496.9 662.6,494.9 665.1,493.2 667.2,491.7 668.8,490.6 668.8,597.0 667.2,597.2 665.1,597.5 662.6,597.7 659.8,598.1 656.9,598.5 653.9,598.9 650.9,599.3 648.2,599.7 645.6,600.1 643.0,600.6 640.4,601.1 637.7,601.5 635.1,602.1 632.5,602.6 629.8,603.2 627.2,603.9 624.6,604.6 621.9,605.4 619.3,606.1 616.7,607.0 614.0,607.8 611.4,608.7 608.7,609.7 606.1,610.7 603.5,611.8 600.8,612.9 598.2,614.0 595.6,615.2 593.0,616.4 590.3,617.7 587.7,618.9 585.0,620.2 582.3,621.4 579.6,622.7 576.8,623.9 574.1,625.2 571.3,626.5 568.6,627.8 565.9,629.2 563.2,630.7 560.5,632.2 557.9,633.8 555.3,635.5 552.7,637.1 550.0,638.9 547.4,640.7 544.8,642.5 542.2,644.4 539.5,646.4 536.7,648.5 533.9,650.7 531.1,653.0 528.4,655.2 525.7,657.4 523.3,659.4 521.1,661.3 519.1,663.1 517.2,664.9 515.4,666.6 513.7,668.2 512.3,669.7 511.0,671.0 509.9,672.1 509.0,673.0" fill="#DCDCDC"/>
<line x1="509" y1="635.6" x2="668.8" y2="543.2" stroke="#DE5065" stroke-width="1.75"/>
<circle cx="508.9" cy="637" r="3.45" fill="#000" stroke="#fff" stroke-width="0.8" paint-order="stroke"/>
<circle cx="513.7" cy="637" r="3.45" fill="#000" stroke="#fff" stroke-width="0.8" paint-order="stroke"/>
<circle cx="523.2" cy="613.2" r="3.45" fill="#000" stroke="#fff" stroke-width="0.8" paint-order="stroke"/>
<circle cx="576.3" cy="584.8" r="3.45" fill="#000" stroke="#fff" stroke-width="0.8" paint-order="stroke"/>
<circle cx="609.9" cy="523.6" r="3.45" fill="#000" stroke="#fff" stroke-width="0.8" paint-order="stroke"/>
<circle cx="615.6" cy="613.4" r="3.45" fill="#000" stroke="#fff" stroke-width="0.8" paint-order="stroke"/>
<path d="M501.6,481.8 V682.6 H677.3" fill="none" stroke="#222" stroke-width="1.55"/>
<line x1="495.1" y1="502.5" x2="501.6" y2="502.5" stroke="#222" stroke-width="1.3"/>
<text x="490.8" y="509.2" font-size="16" text-anchor="end">30</text>
<line x1="495.1" y1="552" x2="501.6" y2="552" stroke="#222" stroke-width="1.3"/>
<text x="490.8" y="558.7" font-size="16" text-anchor="end">20</text>
<line x1="495.1" y1="599.1" x2="501.6" y2="599.1" stroke="#222" stroke-width="1.3"/>
<text x="490.8" y="605.8000000000001" font-size="16" text-anchor="end">10</text>
<line x1="495.1" y1="649.8" x2="501.6" y2="649.8" stroke="#222" stroke-width="1.3"/>
<text x="490.8" y="656.5" font-size="16" text-anchor="end">0</text>
<line x1="533.9" y1="678.6" x2="533.9" y2="682.6" stroke="#222" stroke-width="1.3"/>
<text x="534.1" y="702.0" font-size="16" text-anchor="middle">0</text>
<line x1="581.9" y1="678.6" x2="581.9" y2="682.6" stroke="#222" stroke-width="1.3"/>
<text x="582.1" y="702.0" font-size="16" text-anchor="middle">0.1</text>
<line x1="630.6" y1="678.6" x2="630.6" y2="682.6" stroke="#222" stroke-width="1.3"/>
<text x="630.8000000000001" y="702.0" font-size="16" text-anchor="middle">0.2</text>
<line x1="659.2" y1="678.6" x2="659.2" y2="682.6" stroke="#222" stroke-width="1.3"/>
<text x="659.4000000000001" y="702.0" font-size="16" text-anchor="middle">0.3</text>
<text x="510.3" y="491.5" font-size="16"><tspan font-style="italic">&#961;</tspan><tspan dx="1.2"> = 0.87</tspan></text>
<text x="510.90000000000003" y="510.5" font-size="16"><tspan font-style="italic">P</tspan><tspan dx="0.4"> = 0.025</tspan></text>
<text x="594" y="725.2" font-size="16" text-anchor="middle">IL-12_2 pathway</text>
<line x1="61.2" y1="963" x2="89" y2="963" stroke="#FF2000" stroke-width="2.2"/>
<line x1="103" y1="960.6" x2="131" y2="960.6" stroke="#FF2000" stroke-width="2.2"/>
<line x1="145" y1="959.8" x2="172" y2="959.8" stroke="#FF2000" stroke-width="2.2"/>
<line x1="185" y1="922.8" x2="212.6" y2="922.8" stroke="#FF2000" stroke-width="2.2"/>
<path d="M52.7,802 V969 H211" fill="none" stroke="#222" stroke-width="1.55"/>
<circle cx="64.1" cy="967.5" r="3.1" fill="#000" stroke="#fff" stroke-width="0.7" paint-order="stroke"/>
<circle cx="69.9" cy="960.3" r="3.1" fill="#000" stroke="#fff" stroke-width="0.7" paint-order="stroke"/>
<circle cx="75.3" cy="955.1" r="3.1" fill="#000" stroke="#fff" stroke-width="0.7" paint-order="stroke"/>
<circle cx="75.3" cy="965.8" r="3.1" fill="#000" stroke="#fff" stroke-width="0.7" paint-order="stroke"/>
<circle cx="80.8" cy="960.3" r="3.1" fill="#000" stroke="#fff" stroke-width="0.7" paint-order="stroke"/>
<circle cx="86.5" cy="967" r="3.1" fill="#000" stroke="#fff" stroke-width="0.7" paint-order="stroke"/>
<circle cx="105.8" cy="956.6" r="3.1" fill="#000" stroke="#fff" stroke-width="0.7" paint-order="stroke"/>
<circle cx="111.3" cy="960.3" r="3.1" fill="#000" stroke="#fff" stroke-width="0.7" paint-order="stroke"/>
<circle cx="111.3" cy="966.3" r="3.1" fill="#000" stroke="#fff" stroke-width="0.7" paint-order="stroke"/>
<circle cx="117" cy="959.6" r="3.1" fill="#000" stroke="#fff" stroke-width="0.7" paint-order="stroke"/>
<circle cx="122.7" cy="960.3" r="3.1" fill="#000" stroke="#fff" stroke-width="0.7" paint-order="stroke"/>
<circle cx="128.2" cy="960.3" r="3.1" fill="#000" stroke="#fff" stroke-width="0.7" paint-order="stroke"/>
<circle cx="146.8" cy="959.8" r="3.1" fill="#000" stroke="#fff" stroke-width="0.7" paint-order="stroke"/>
<circle cx="152.5" cy="952.4" r="3.1" fill="#000" stroke="#fff" stroke-width="0.7" paint-order="stroke"/>
<circle cx="158.2" cy="934.3" r="3.1" fill="#000" stroke="#fff" stroke-width="0.7" paint-order="stroke"/>
<circle cx="158.2" cy="967.3" r="3.1" fill="#000" stroke="#fff" stroke-width="0.7" paint-order="stroke"/>
<circle cx="163.9" cy="949.6" r="3.1" fill="#000" stroke="#fff" stroke-width="0.7" paint-order="stroke"/>
<circle cx="169.6" cy="960" r="3.1" fill="#000" stroke="#fff" stroke-width="0.7" paint-order="stroke"/>
<circle cx="194.5" cy="904.5" r="3.1" fill="#000" stroke="#fff" stroke-width="0.7" paint-order="stroke"/>
<circle cx="205.4" cy="905.5" r="3.1" fill="#000" stroke="#fff" stroke-width="0.7" paint-order="stroke"/>
<circle cx="199.9" cy="939.7" r="3.1" fill="#000" stroke="#fff" stroke-width="0.7" paint-order="stroke"/>
<circle cx="199.9" cy="953.4" r="3.1" fill="#000" stroke="#fff" stroke-width="0.7" paint-order="stroke"/>
<circle cx="199.9" cy="961.3" r="3.1" fill="#000" stroke="#fff" stroke-width="0.7" paint-order="stroke"/>
<circle cx="196.4" cy="816.4" r="3.1" fill="#000" stroke="#fff" stroke-width="0.7" paint-order="stroke"/>
<line x1="46.2" y1="802" x2="52.7" y2="802" stroke="#222" stroke-width="1.3"/>
<text x="44.400000000000006" y="807.1" font-size="16" text-anchor="end">60</text>
<line x1="46.2" y1="857.5" x2="52.7" y2="857.5" stroke="#222" stroke-width="1.3"/>
<text x="44.400000000000006" y="862.6" font-size="16" text-anchor="end">40</text>
<line x1="46.2" y1="913.3" x2="52.7" y2="913.3" stroke="#222" stroke-width="1.3"/>
<text x="44.400000000000006" y="918.4" font-size="16" text-anchor="end">20</text>
<line x1="46.2" y1="969" x2="52.7" y2="969" stroke="#222" stroke-width="1.3"/>
<text x="44.400000000000006" y="974.1" font-size="16" text-anchor="end">0</text>
<line x1="75" y1="969" x2="75" y2="974.5" stroke="#222" stroke-width="1.3"/>
<text x="75" y="992.5" font-size="16" text-anchor="middle">No</text>
<line x1="116.5" y1="969" x2="116.5" y2="974.5" stroke="#222" stroke-width="1.3"/>
<text x="116.5" y="992.5" font-size="16" text-anchor="middle">i.m.</text>
<line x1="158.2" y1="969" x2="158.2" y2="974.5" stroke="#222" stroke-width="1.3"/>
<text x="158.2" y="992.5" font-size="16" text-anchor="middle">i.n.</text>
<line x1="199.9" y1="969" x2="199.9" y2="974.5" stroke="#222" stroke-width="1.3"/>
<text x="199.9" y="992.5" font-size="16" text-anchor="middle">i.t.</text>
<line x1="75.6" y1="771.8" x2="194.8" y2="771.8" stroke="#222" stroke-width="1.3"/>
<text x="132.5" y="768.0" font-size="16" text-anchor="middle">0.01</text>
<line x1="111.8" y1="790.2" x2="194.8" y2="790.2" stroke="#222" stroke-width="1.3"/>
<text x="153.6" y="786.4000000000001" font-size="16" text-anchor="middle">0.04</text>
<line x1="158.8" y1="809.4" x2="194.8" y2="809.4" stroke="#222" stroke-width="1.3"/>
<text x="178" y="805.6" font-size="16" text-anchor="middle">NS</text>
<text transform="translate(18.9,885.5) rotate(-90)" font-size="16" text-anchor="middle">IL-12 (pg ml<tspan font-size="10" dy="-6">&#8722;1</tspan><tspan dy="6">)</tspan></text>
<line x1="314.5" y1="947.5" x2="340.9" y2="947.5" stroke="#FF2000" stroke-width="2.2"/>
<line x1="353.7" y1="940.2" x2="379.9" y2="940.2" stroke="#FF2000" stroke-width="2.2"/>
<line x1="397.6" y1="960.5" x2="420" y2="960.5" stroke="#FF2000" stroke-width="2.2"/>
<line x1="430.1" y1="900.3" x2="454.9" y2="900.3" stroke="#FF2000" stroke-width="2.2"/>
<path d="M307.8,803.7 V969.4 H455.3" fill="none" stroke="#222" stroke-width="1.55"/>
<circle cx="322.7" cy="942.1" r="3.1" fill="#000" stroke="#fff" stroke-width="0.7" paint-order="stroke"/>
<circle cx="332.7" cy="939.3" r="3.1" fill="#000" stroke="#fff" stroke-width="0.7" paint-order="stroke"/>
<circle cx="332.7" cy="945.4" r="3.1" fill="#000" stroke="#fff" stroke-width="0.7" paint-order="stroke"/>
<circle cx="322.7" cy="950" r="3.1" fill="#000" stroke="#fff" stroke-width="0.7" paint-order="stroke"/>
<circle cx="332.7" cy="958.9" r="3.1" fill="#000" stroke="#fff" stroke-width="0.7" paint-order="stroke"/>
<circle cx="322.7" cy="961.2" r="3.1" fill="#000" stroke="#fff" stroke-width="0.7" paint-order="stroke"/>
<circle cx="366.6" cy="903.3" r="3.1" fill="#000" stroke="#fff" stroke-width="0.7" paint-order="stroke"/>
<circle cx="366.6" cy="930.6" r="3.1" fill="#000" stroke="#fff" stroke-width="0.7" paint-order="stroke"/>
<circle cx="361.4" cy="936.5" r="3.1" fill="#000" stroke="#fff" stroke-width="0.7" paint-order="stroke"/>
<circle cx="361.4" cy="941.6" r="3.1" fill="#000" stroke="#fff" stroke-width="0.7" paint-order="stroke"/>
<circle cx="371.9" cy="940.5" r="3.1" fill="#000" stroke="#fff" stroke-width="0.7" paint-order="stroke"/>
<circle cx="361.4" cy="949.8" r="3.1" fill="#000" stroke="#fff" stroke-width="0.7" paint-order="stroke"/>
<circle cx="371.9" cy="949.8" r="3.1" fill="#000" stroke="#fff" stroke-width="0.7" paint-order="stroke"/>
<circle cx="405.8" cy="938.8" r="3.1" fill="#000" stroke="#fff" stroke-width="0.7" paint-order="stroke"/>
<circle cx="405.8" cy="948.4" r="3.1" fill="#000" stroke="#fff" stroke-width="0.7" paint-order="stroke"/>
<circle cx="416.3" cy="946.1" r="3.1" fill="#000" stroke="#fff" stroke-width="0.7" paint-order="stroke"/>
<circle cx="395.3" cy="960.8" r="3.1" fill="#000" stroke="#fff" stroke-width="0.7" paint-order="stroke"/>
<circle cx="405.8" cy="962.4" r="3.1" fill="#000" stroke="#fff" stroke-width="0.7" paint-order="stroke"/>
<circle cx="416.3" cy="961.5" r="3.1" fill="#000" stroke="#fff" stroke-width="0.7" paint-order="stroke"/>
<circle cx="405.8" cy="967.6" r="3.1" fill="#000" stroke="#fff" stroke-width="0.7" paint-order="stroke"/>
<circle cx="439.7" cy="894.2" r="3.1" fill="#000" stroke="#fff" stroke-width="0.7" paint-order="stroke"/>
<circle cx="439.7" cy="901.4" r="3.1" fill="#000" stroke="#fff" stroke-width="0.7" paint-order="stroke"/>
<circle cx="450" cy="899.1" r="3.1" fill="#000" stroke="#fff" stroke-width="0.7" paint-order="stroke"/>
<circle cx="439.7" cy="925" r="3.1" fill="#000" stroke="#fff" stroke-width="0.7" paint-order="stroke"/>
<circle cx="450" cy="923.2" r="3.1" fill="#000" stroke="#fff" stroke-width="0.7" paint-order="stroke"/>
<circle cx="444.2" cy="823.8" r="3.1" fill="#000" stroke="#fff" stroke-width="0.7" paint-order="stroke"/>
<line x1="301.3" y1="803.7" x2="307.8" y2="803.7" stroke="#222" stroke-width="1.3"/>
<text x="297.5" y="808.8000000000001" font-size="16" text-anchor="end">3,000</text>
<line x1="301.3" y1="858.8" x2="307.8" y2="858.8" stroke="#222" stroke-width="1.3"/>
<text x="297.5" y="863.9" font-size="16" text-anchor="end">2,000</text>
<line x1="301.3" y1="913.8" x2="307.8" y2="913.8" stroke="#222" stroke-width="1.3"/>
<text x="297.5" y="918.9" font-size="16" text-anchor="end">1,000</text>
<line x1="301.3" y1="969" x2="307.8" y2="969" stroke="#222" stroke-width="1.3"/>
<text x="297.5" y="974.1" font-size="16" text-anchor="end">0</text>
<line x1="327.5" y1="969.4" x2="327.5" y2="974.9" stroke="#222" stroke-width="1.3"/>
<text x="327.5" y="992.5" font-size="16" text-anchor="middle">No</text>
<line x1="366.8" y1="969.4" x2="366.8" y2="974.9" stroke="#222" stroke-width="1.3"/>
<text x="366.8" y="992.5" font-size="16" text-anchor="middle">i.m.</text>
<line x1="405.8" y1="969.4" x2="405.8" y2="974.9" stroke="#222" stroke-width="1.3"/>
<text x="405.8" y="992.5" font-size="16" text-anchor="middle">i.n.</text>
<line x1="444.6" y1="969.4" x2="444.6" y2="974.9" stroke="#222" stroke-width="1.3"/>
<text x="444.6" y="992.5" font-size="16" text-anchor="middle">i.t.</text>
<line x1="321.3" y1="771.8" x2="438.2" y2="771.8" stroke="#222" stroke-width="1.3"/>
<text x="381" y="768.0" font-size="16" text-anchor="middle">0.002</text>
<line x1="366" y1="790.2" x2="438.2" y2="790.2" stroke="#222" stroke-width="1.3"/>
<text x="404" y="786.4000000000001" font-size="16" text-anchor="middle">0.004</text>
<line x1="405.6" y1="809.4" x2="438.2" y2="809.4" stroke="#222" stroke-width="1.3"/>
<text x="423.5" y="805.6" font-size="16" text-anchor="middle">0.001</text>
<text transform="translate(247.3,880.6) rotate(-90)" font-size="16" text-anchor="middle">CXCL10 (pg ml<tspan font-size="10" dy="-6">&#8722;1</tspan><tspan dy="6">)</tspan></text>
<line x1="533.2" y1="930.7" x2="561.2" y2="930.7" stroke="#FF2000" stroke-width="2.2"/>
<line x1="574.8" y1="919.8" x2="602.8" y2="919.8" stroke="#FF2000" stroke-width="2.2"/>
<line x1="621.9" y1="921.6" x2="645.3" y2="921.6" stroke="#FF2000" stroke-width="2.2"/>
<line x1="655.8" y1="888.2" x2="683.8" y2="888.2" stroke="#FF2000" stroke-width="2.2"/>
<path d="M524.5,796 V969.5 H685" fill="none" stroke="#222" stroke-width="1.55"/>
<circle cx="546.7" cy="881.7" r="3.1" fill="#000" stroke="#fff" stroke-width="0.7" paint-order="stroke"/>
<circle cx="546.7" cy="925.1" r="3.1" fill="#000" stroke="#fff" stroke-width="0.7" paint-order="stroke"/>
<circle cx="535.5" cy="929.1" r="3.1" fill="#000" stroke="#fff" stroke-width="0.7" paint-order="stroke"/>
<circle cx="558.2" cy="932.1" r="3.1" fill="#000" stroke="#fff" stroke-width="0.7" paint-order="stroke"/>
<circle cx="546.7" cy="934.5" r="3.1" fill="#000" stroke="#fff" stroke-width="0.7" paint-order="stroke"/>
<circle cx="546.7" cy="948" r="3.1" fill="#000" stroke="#fff" stroke-width="0.7" paint-order="stroke"/>
<circle cx="588.8" cy="876.1" r="3.1" fill="#000" stroke="#fff" stroke-width="0.7" paint-order="stroke"/>
<circle cx="588.8" cy="881.2" r="3.1" fill="#000" stroke="#fff" stroke-width="0.7" paint-order="stroke"/>
<circle cx="588.8" cy="901.8" r="3.1" fill="#000" stroke="#fff" stroke-width="0.7" paint-order="stroke"/>
<circle cx="594.4" cy="920" r="3.1" fill="#000" stroke="#fff" stroke-width="0.7" paint-order="stroke"/>
<circle cx="583.4" cy="924.2" r="3.1" fill="#000" stroke="#fff" stroke-width="0.7" paint-order="stroke"/>
<circle cx="594.4" cy="931" r="3.1" fill="#000" stroke="#fff" stroke-width="0.7" paint-order="stroke"/>
<circle cx="583.4" cy="935.2" r="3.1" fill="#000" stroke="#fff" stroke-width="0.7" paint-order="stroke"/>
<circle cx="631.3" cy="875.1" r="3.1" fill="#000" stroke="#fff" stroke-width="0.7" paint-order="stroke"/>
<circle cx="631.3" cy="881.7" r="3.1" fill="#000" stroke="#fff" stroke-width="0.7" paint-order="stroke"/>
<circle cx="631.3" cy="901.8" r="3.1" fill="#000" stroke="#fff" stroke-width="0.7" paint-order="stroke"/>
<circle cx="619.8" cy="921.4" r="3.1" fill="#000" stroke="#fff" stroke-width="0.7" paint-order="stroke"/>
<circle cx="631.3" cy="925.6" r="3.1" fill="#000" stroke="#fff" stroke-width="0.7" paint-order="stroke"/>
<circle cx="642.5" cy="924.2" r="3.1" fill="#000" stroke="#fff" stroke-width="0.7" paint-order="stroke"/>
<circle cx="631.3" cy="951.3" r="3.1" fill="#000" stroke="#fff" stroke-width="0.7" paint-order="stroke"/>
<circle cx="673.3" cy="870.5" r="3.1" fill="#000" stroke="#fff" stroke-width="0.7" paint-order="stroke"/>
<circle cx="678.9" cy="886.4" r="3.1" fill="#000" stroke="#fff" stroke-width="0.7" paint-order="stroke"/>
<circle cx="668" cy="890.3" r="3.1" fill="#000" stroke="#fff" stroke-width="0.7" paint-order="stroke"/>
<circle cx="673.3" cy="908.5" r="3.1" fill="#000" stroke="#fff" stroke-width="0.7" paint-order="stroke"/>
<circle cx="673.3" cy="923.7" r="3.1" fill="#000" stroke="#fff" stroke-width="0.7" paint-order="stroke"/>
<circle cx="673.6" cy="819.4" r="3.1" fill="#000" stroke="#fff" stroke-width="0.7" paint-order="stroke"/>
<line x1="518.0" y1="796.3" x2="524.5" y2="796.3" stroke="#222" stroke-width="1.3"/>
<text x="516.2" y="801.4" font-size="16" text-anchor="end">30</text>
<line x1="518.0" y1="854" x2="524.5" y2="854" stroke="#222" stroke-width="1.3"/>
<text x="516.2" y="859.1" font-size="16" text-anchor="end">20</text>
<line x1="518.0" y1="911.5" x2="524.5" y2="911.5" stroke="#222" stroke-width="1.3"/>
<text x="516.2" y="916.6" font-size="16" text-anchor="end">10</text>
<line x1="518.0" y1="969.5" x2="524.5" y2="969.5" stroke="#222" stroke-width="1.3"/>
<text x="516.2" y="974.6" font-size="16" text-anchor="end">0</text>
<line x1="546.7" y1="969.5" x2="546.7" y2="975.0" stroke="#222" stroke-width="1.3"/>
<text x="546.7" y="992.5" font-size="16" text-anchor="middle">No</text>
<line x1="588.9" y1="969.5" x2="588.9" y2="975.0" stroke="#222" stroke-width="1.3"/>
<text x="588.9" y="992.5" font-size="16" text-anchor="middle">i.m.</text>
<line x1="631.3" y1="969.5" x2="631.3" y2="975.0" stroke="#222" stroke-width="1.3"/>
<text x="631.3" y="992.5" font-size="16" text-anchor="middle">i.n.</text>
<line x1="673.4" y1="969.5" x2="673.4" y2="975.0" stroke="#222" stroke-width="1.3"/>
<text x="673.4" y="992.5" font-size="16" text-anchor="middle">i.t.</text>
<line x1="546.7" y1="771.8" x2="673.9" y2="771.8" stroke="#222" stroke-width="1.3"/>
<text x="604.5" y="768.0" font-size="16" text-anchor="middle">0.02</text>
<line x1="589" y1="790.2" x2="673.9" y2="790.2" stroke="#222" stroke-width="1.3"/>
<text x="631.5" y="786.4000000000001" font-size="16" text-anchor="middle">NS</text>
<line x1="632" y1="809.4" x2="675" y2="809.4" stroke="#222" stroke-width="1.3"/>
<text x="653.5" y="805.6" font-size="16" text-anchor="middle">NS</text>
<text transform="translate(488,882.7) rotate(-90)" font-size="16" text-anchor="middle">MIP-1&#945; (pg ml<tspan font-size="10" dy="-6">&#8722;1</tspan><tspan dy="6">)</tspan></text>
</svg></body></html>
